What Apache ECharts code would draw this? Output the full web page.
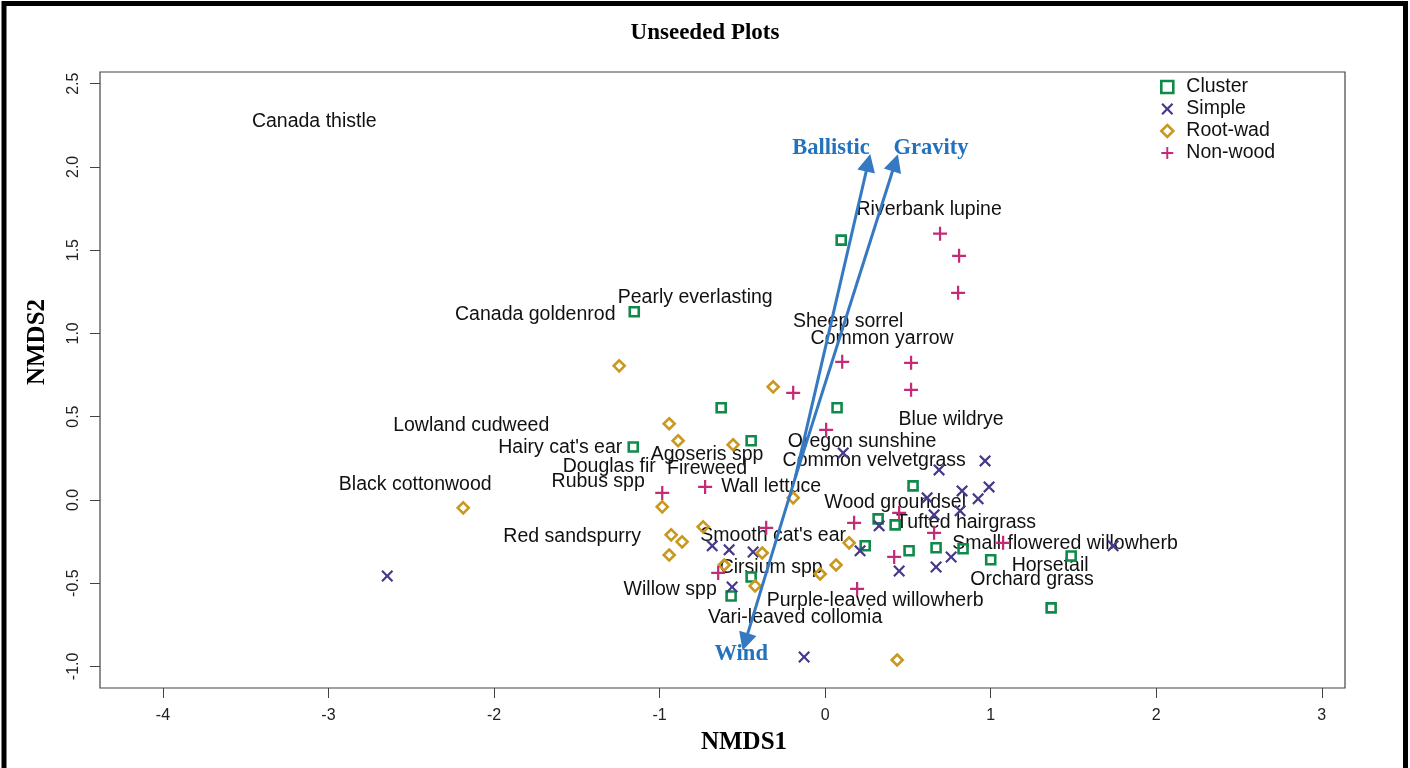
<!DOCTYPE html>
<html>
<head>
<meta charset="utf-8">
<script src="https://cdn.jsdelivr.net/npm/echarts@6/dist/echarts.min.js"></script>
<style>
html,body{margin:0;padding:0;background:#fff;}
#chart{width:1410px;height:768px;}
</style>
</head>
<body>
<div id="chart"></div>
<script>
// ---- data ----
const xTicks = [-4, -3, -2, -1, 0, 1, 2, 3];
const yTicks = [-1, -0.5, 0, 0.5, 1, 1.5, 2, 2.5];

const clusterPts = [
  [0.097, 1.56], [-1.153, 1.13], [-0.628, 0.553], [0.072, 0.553], [-1.159, 0.318],
  [-0.447, 0.355], [0.531, 0.084], [0.32, -0.114], [0.423, -0.15], [0.242, -0.276],
  [0.507, -0.306], [0.67, -0.288], [0.833, -0.294], [1.0, -0.36], [1.486, -0.337],
  [1.365, -0.649], [-0.447, -0.463], [-0.568, -0.577]
];
const simplePts = [
  [0.109, 0.282], [0.966, 0.234], [0.688, 0.18], [0.827, 0.054], [0.99, 0.078],
  [0.616, 0.012], [0.924, 0.006], [0.815, -0.066], [0.658, -0.09], [0.326, -0.156],
  [0.211, -0.306], [0.761, -0.343], [0.447, -0.427], [0.67, -0.403], [1.739, -0.276],
  [-0.682, -0.276], [-0.58, -0.3], [-0.435, -0.313], [-0.562, -0.523], [-2.645, -0.457],
  [-0.127, -0.944]
];
const rootwadPts = [
  [-1.244, 0.805], [-0.314, 0.679], [-0.942, 0.457], [-0.888, 0.355], [-0.556, 0.331],
  [-0.193, 0.012], [-2.186, -0.048], [-0.984, -0.042], [-0.737, -0.162], [-0.93, -0.21],
  [-0.864, -0.252], [-0.942, -0.331], [-0.38, -0.319], [-0.61, -0.391], [-0.423, -0.517],
  [-0.03, -0.445], [0.066, -0.391], [0.145, -0.258], [0.435, -0.962]
];
const nonwoodPts = [
  [0.694, 1.599], [0.809, 1.466], [0.803, 1.244], [0.103, 0.829], [0.519, 0.823],
  [0.519, 0.661], [-0.193, 0.643], [0.006, 0.421], [-0.984, 0.042], [-0.725, 0.078],
  [-0.356, -0.168], [-0.646, -0.439], [0.175, -0.138], [0.447, -0.078], [0.658, -0.198],
  [1.075, -0.258], [0.417, -0.343], [0.193, -0.535]
];

const speciesNames = [
  "Canada thistle", "Riverbank lupine", "Pearly everlasting", "Canada goldenrod",
  "Sheep sorrel", "Common yarrow", "Lowland cudweed", "Blue wildrye", "Hairy cat's ear",
  "Oregon sunshine", "Agoseris spp", "Common velvetgrass", "Douglas fir", "Fireweed",
  "Rubus spp", "Wall lettuce", "Black cottonwood", "Wood groundsel", "Tufted hairgrass",
  "Red sandspurry", "Smooth cat's ear", "Small-flowered willowherb", "Horsetail",
  "Cirsium spp", "Orchard grass", "Willow spp", "Purple-leaved willowherb", "Vari-leaved collomia"
];
const speciesX = [
  -3.086, 0.628, -0.785, -1.751,
  0.139, 0.344, -2.138, 0.761, -1.600,
  0.223, -0.713, 0.296, -1.304, -0.713,
  -1.371, -0.326, -2.476, 0.423, 0.851,
  -1.528, -0.314, 1.449, 1.359,
  -0.326, 1.250, -0.936, 0.302, -0.181
];
const speciesY = [
  2.272, 1.743, 1.214, 1.112,
  1.070, 0.968, 0.445, 0.481, 0.313,
  0.349, 0.270, 0.234, 0.198, 0.186,
  0.108, 0.078, 0.090, -0.018, -0.138,
  -0.222, -0.216, -0.264, -0.397,
  -0.409, -0.481, -0.541, -0.607, -0.709
];

const vectorNames = ["Ballistic", "Gravity", "Wind"];
const vectorStart = [-0.181, 0.132];
const vectorTips = [[0.260, 2.025], [0.423, 2.025], [-0.483, -0.853]];
const vectorLabelPos = [[0.036, 2.115], [0.640, 2.115], [-0.507, -0.925]];

// ---- styling ----
const COL_CLUSTER = '#0f8a4a';
const COL_SIMPLE = '#473889';
const COL_ROOT = '#c9981f';
const COL_NONWOOD = '#c42a76';
const COL_VEC = '#3579c2';

const PLUS = 'path://M42,0H58V42H100V58H58V100H42V58H0V42H42Z';
const CROSS = 'path://M0,13L13,0L50,37L87,0L100,13L63,50L100,87L87,100L50,63L13,100L0,87L37,50Z';

const chart = echarts.init(document.getElementById('chart'), null, {renderer: 'canvas'});

const option = {
  backgroundColor: '#ffffff',
  animation: false,
  title: {
    text: 'Unseeded Plots',
    left: 'center',
    top: 17,
    textStyle: {fontFamily: 'Liberation Serif', fontWeight: 'bold', fontSize: 23, color: '#000'}
  },
  grid: {
    left: 100, right: 65, top: 72, bottom: 80,
    show: true, borderColor: '#444', borderWidth: 1.2, backgroundColor: 'transparent'
  },
  legend: {
    orient: 'vertical',
    left: 1155, top: 72,
    itemWidth: 12, itemHeight: 12, itemGap: 2,
    textStyle: {fontFamily: 'Liberation Sans', fontSize: 19.5, color: '#111', padding: [0, 0, 0, 8]},
    data: [
      {name: 'Cluster', icon: 'rect',
        itemStyle: {color: 'rgba(255,255,255,0)', borderColor: COL_CLUSTER, borderWidth: 2.6, opacity: 1}},
      {name: 'Simple', icon: CROSS, itemStyle: {color: COL_SIMPLE, borderWidth: 0, opacity: 1}},
      {name: 'Root-wad', icon: 'diamond',
        itemStyle: {color: 'rgba(255,255,255,0)', borderColor: COL_ROOT, borderWidth: 2.6, opacity: 1}},
      {name: 'Non-wood', icon: PLUS, itemStyle: {color: COL_NONWOOD, borderWidth: 0, opacity: 1}}
    ]
  },
  xAxis: {
    type: 'value', min: -4.38, max: 3.14,
    axisLine: {show: false, onZero: false},
    splitLine: {show: false},
    axisTick: {show: true, length: 10, inside: false, customValues: xTicks, lineStyle: {color: '#444'}},
    axisLabel: {customValues: xTicks, margin: 20, fontFamily: 'Liberation Sans', fontSize: 16, color: '#222',
      formatter: v => String(v)}
  },
  yAxis: {
    type: 'value', min: -1.13, max: 2.57,
    axisLine: {show: false, onZero: false},
    splitLine: {show: false},
    axisTick: {show: true, length: 10, inside: false, customValues: yTicks, lineStyle: {color: '#444'}},
    axisLabel: {customValues: yTicks, margin: 18, rotate: 90, fontFamily: 'Liberation Sans', fontSize: 16, color: '#222',
      formatter: v => Number(v).toFixed(1)}
  },
  graphic: [
    {type: 'rect', shape: {x: 4, y: 3.5, width: 1401.5, height: 790}, style: {fill: 'none', stroke: '#000', lineWidth: 5}, z: 100},
    {type: 'text', x: 744, y: 743, style: {text: 'NMDS1', textAlign: 'center', textVerticalAlign: 'middle',
      font: 'bold 25px "Liberation Serif"', fill: '#000'}},
    {type: 'text', x: 38, y: 342, rotation: Math.PI / 2, style: {text: 'NMDS2', textAlign: 'center', textVerticalAlign: 'middle',
      font: 'bold 25px "Liberation Serif"', fill: '#000'}}
  ],
  series: [
    {
      name: 'Species', type: 'scatter', symbolSize: 1, itemStyle: {color: 'rgba(0,0,0,0)', opacity: 1},
      silent: true, z: 3,
      data: speciesNames.map((n, i) => ({name: n, value: [speciesX[i], speciesY[i]]})),
      label: {show: true, position: 'inside', formatter: '{b}', fontFamily: 'Liberation Sans', fontSize: 19.5,
        color: '#111', opacity: 1}
    },
    {
      name: 'Cluster', type: 'scatter', symbol: 'rect', symbolSize: 9, z: 4,
      itemStyle: {color: 'rgba(255,255,255,0)', borderColor: COL_CLUSTER, borderWidth: 2.6, opacity: 1},
      data: clusterPts
    },
    {
      name: 'Simple', type: 'scatter', symbol: CROSS, symbolSize: 12, z: 4,
      itemStyle: {color: COL_SIMPLE, opacity: 1},
      data: simplePts
    },
    {
      name: 'Root-wad', type: 'scatter', symbol: 'diamond', symbolSize: 11, z: 4,
      itemStyle: {color: 'rgba(255,255,255,0)', borderColor: COL_ROOT, borderWidth: 2.6, opacity: 1},
      data: rootwadPts
    },
    {
      name: 'Non-wood', type: 'scatter', symbol: PLUS, symbolSize: 14, z: 4,
      itemStyle: {color: COL_NONWOOD, opacity: 1},
      data: nonwoodPts
    },
    {
      name: 'Vectors', type: 'lines', coordinateSystem: 'cartesian2d', z: 5,
      symbol: ['none', 'triangle'], symbolSize: 18,
      lineStyle: {color: COL_VEC, width: 3, opacity: 1},
      data: vectorTips.map(t => ({coords: [vectorStart, t]}))
    },
    {
      name: 'VectorLabels', type: 'scatter', symbolSize: 1, itemStyle: {color: 'rgba(0,0,0,0)', opacity: 1}, z: 6, silent: true,
      data: vectorNames.map((n, i) => ({name: n, value: vectorLabelPos[i]})),
      label: {show: true, position: 'inside', formatter: '{b}', fontFamily: 'Liberation Serif', fontWeight: 'bold',
        fontSize: 22.5, color: '#2272bd', opacity: 1}
    }
  ]
};
chart.setOption(option);
</script>
</body>
</html>
